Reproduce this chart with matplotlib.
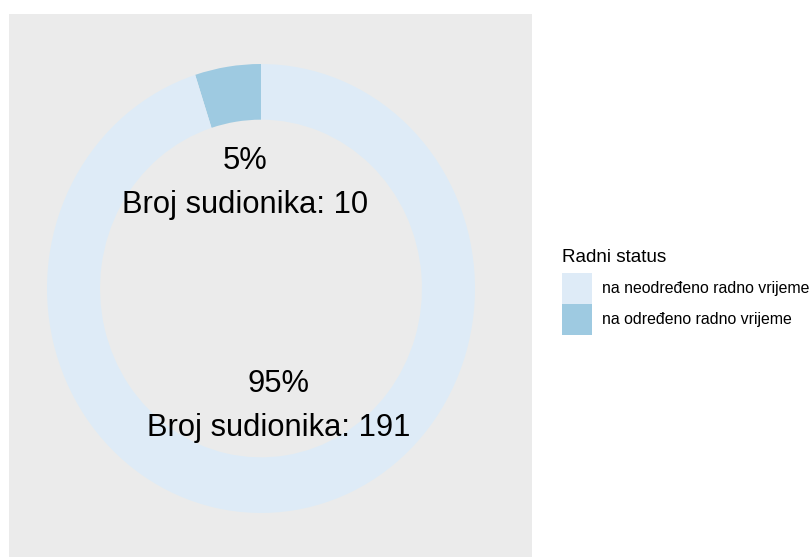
import matplotlib
matplotlib.use("Agg")
import matplotlib.pyplot as plt
from matplotlib.patches import Patch
import numpy as np

categories = ["na neodređeno radno vrijeme", "na određeno radno vrijeme"]
counts = [191, 10]
percent_labels = ["95%", "5%"]
legend_title = "Radni status"
colors = ["#DEEBF7", "#9ECAE1"]

plt.rcParams['font.family'] = ['Liberation Sans', 'DejaVu Sans']

W, H = 811, 557
fig = plt.figure(figsize=(W / 100, H / 100), dpi=100)
# panel area in pixels
pl, pr, pt, pb = 9, 532, 14, 557
ax = fig.add_axes([pl / W, 1 - pb / H, (pr - pl) / W, (pb - pt) / H])
ax.set_facecolor("#EBEBEB")

# draw ring: smaller category first from 12 o'clock counterclockwise
order = [1, 0]
vals = [counts[i] for i in order]
cols = [colors[i] for i in order]
wedges, _ = ax.pie(vals, colors=cols, startangle=90, counterclock=True,
                   wedgeprops=dict(width=0.248, linewidth=0), frame=True)

# pixel geometry of donut center/radius
cx, cy, rx, ry = 261, 288.5, 214, 224.5
ax.set_xlim((pl - cx) / rx, (pr - cx) / rx)
ax.set_ylim(-(pb - cy) / ry, (cy - pt) / ry)
ax.set_aspect('auto')
ax.set_xticks([])
ax.set_yticks([])
for s in ax.spines.values():
    s.set_visible(False)

# labels at slice mid-angles
total = sum(vals)
start = 90.0
label_r = [0.476, 0.53]
for k, i in enumerate(order):
    frac = counts[i] / total
    mid = np.deg2rad(start + frac * 360 / 2)
    start += frac * 360
    r = label_r[k]
    x, y = r * np.cos(mid), r * np.sin(mid)
    ax.text(x, y, f"{percent_labels[i]}\nBroj sudionika: {counts[i]}",
            ha="center", va="center", multialignment="center",
            fontsize=22.2, linespacing=1.62, color="black")

fig.text(562 / W, 1 - 262 / H, legend_title, fontsize=13.6,
         ha="left", va="baseline", color="black")
handles = [Patch(facecolor=c, edgecolor="none") for c in colors]
leg = fig.legend(handles, categories,
                 loc="upper left", bbox_to_anchor=(562 / W, 1 - 273 / H),
                 frameon=False, fontsize=11.4,
                 handlelength=1.9, handleheight=2.62, labelspacing=0.0,
                 handletextpad=0.63, borderpad=0, borderaxespad=0)

fig.savefig("out.png", dpi=100)
